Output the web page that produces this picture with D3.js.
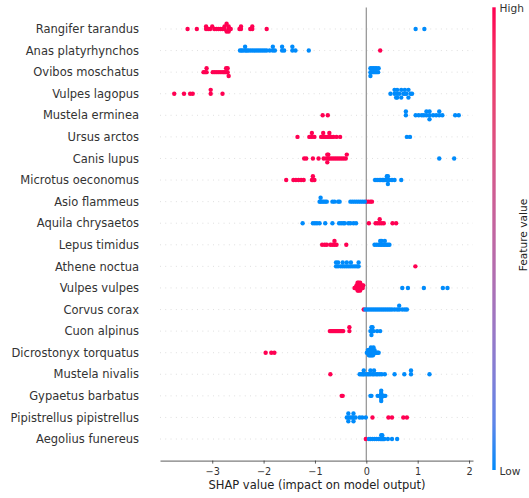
<!DOCTYPE html>
<html>
<head>
<meta charset="utf-8">
<script src="https://cdn.jsdelivr.net/npm/d3@7"></script>
<style>
	html, body { margin: 0; padding: 0; background: #fff; }
	text { font-family: "DejaVu Sans", sans-serif; }
</style>
</head>
<body>
<script>
(function() {
	'use strict';

	// DATA //

	var features = [
		'Rangifer tarandus',
		'Anas platyrhynchos',
		'Ovibos moschatus',
		'Vulpes lagopus',
		'Mustela erminea',
		'Ursus arctos',
		'Canis lupus',
		'Microtus oeconomus',
		'Asio flammeus',
		'Aquila chrysaetos',
		'Lepus timidus',
		'Athene noctua',
		'Vulpes vulpes',
		'Corvus corax',
		'Cuon alpinus',
		'Dicrostonyx torquatus',
		'Mustela nivalis',
		'Gypaetus barbatus',
		'Pipistrellus pipistrellus',
		'Aegolius funereus'
	];

	// SHAP values of samples with a high feature value (red):
	var highShap = [
		[ -3.48, -3.30, -3.12, -3.12, -3.08, -3.04, -3.00, -2.96, -2.92, -2.88, -2.84, -2.80, -2.76, -2.76, -2.72, -2.72, -2.68, -2.68, -2.68, -2.64, -2.47, -2.44, -2.44, -2.26, -2.22, -2.22, -1.94 ],
		[ 0.27 ],
		[ -3.17, -3.14, -3.11, -3.11, -2.99, -2.95, -2.91, -2.87, -2.83, -2.79, -2.76, -2.73, -2.73, -2.70, -2.70, -2.68 ],
		[ -3.74, -3.55, -3.43, -3.38, -3.03, -3.03, -2.80 ],
		[ -0.85, -0.75 ],
		[ -1.34, -1.11, -1.06, -1.06, -1.01, -0.88, -0.84, -0.84, -0.80, -0.76, -0.72, -0.72, -0.68, -0.64, -0.58, -0.51 ],
		[ -1.21, -1.17, -1.04, -0.93, -0.83, -0.78, -0.76, -0.76, -0.74, -0.74, -0.72, -0.68, -0.64, -0.60, -0.56, -0.52, -0.48, -0.44, -0.40, -0.38 ],
		[ -1.56, -1.42, -1.37, -1.32, -1.27, -1.22, -1.06, -1.04, -1.04, -1.01 ],
		[ 0.00, 0.04, 0.08, 0.11 ],
		[ 0.05, 0.18, 0.22, 0.26, 0.26, 0.30, 0.34, 0.51, 0.58 ],
		[ -0.86, -0.81, -0.77, -0.70, -0.66, -0.62, -0.62, -0.58, -0.39 ],
		[ 0.955 ],
		[ -0.23, -0.21, -0.20, -0.19, -0.18, -0.18, -0.17, -0.17, -0.16, -0.16, -0.15, -0.15, -0.14, -0.14, -0.13, -0.13, -0.12, -0.12, -0.11, -0.10, -0.09, -0.08, -0.07, -0.06 ],
		[ -0.05 ],
		[ -0.71, -0.69, -0.67, -0.65, -0.63, -0.61, -0.59, -0.57, -0.55, -0.53, -0.51, -0.49, -0.47, -0.45, -0.33, -0.33 ],
		[ -1.96, -1.85, -1.79 ],
		[ -0.70 ],
		[ -0.48, -0.46 ],
		[ 0.12, 0.43, 0.50, 0.72, 0.79 ],
		[ -0.01 ]
	];

	// SHAP values of samples with a low feature value (blue):
	var lowShap = [
		[ 0.96, 1.13 ],
		[ -2.46, -2.43, -2.40, -2.36, -2.36, -2.33, -2.30, -2.26, -2.22, -2.18, -2.14, -2.10, -2.06, -2.02, -1.98, -1.94, -1.88, -1.82, -1.82, -1.78, -1.64, -1.64, -1.60, -1.44, -1.44, -1.38, -1.12 ],
		[ 0.08, 0.08, 0.08, 0.11, 0.11, 0.14, 0.14, 0.17, 0.17, 0.20, 0.20, 0.23, 0.24 ],
		[ 0.47, 0.55, 0.55, 0.58, 0.60, 0.60, 0.60, 0.64, 0.68, 0.68, 0.72, 0.75, 0.75, 0.78, 0.82, 0.82, 0.86, 0.89 ],
		[ 0.77, 0.77, 0.96, 1.02, 1.08, 1.12, 1.17, 1.17, 1.23, 1.23, 1.23, 1.30, 1.36, 1.42, 1.42, 1.48, 1.73, 1.80 ],
		[ 0.79, 0.85 ],
		[ 1.42, 1.71 ],
		[ 0.17, 0.21, 0.25, 0.28, 0.31, 0.33, 0.35, 0.38, 0.40, 0.42, 0.42, 0.42, 0.45, 0.50, 0.55, 0.68 ],
		[ -0.91, -0.89, -0.89, -0.86, -0.83, -0.80, -0.77, -0.66, -0.62, -0.55, -0.52, -0.31, -0.27, -0.23, -0.19, -0.15, -0.11, -0.07, -0.03 ],
		[ -1.24, -1.04, -1.00, -0.96, -0.91, -0.80, -0.66, -0.53, -0.49, -0.45, -0.42, -0.35, -0.31, -0.25, -0.20 ],
		[ 0.16, 0.20, 0.24, 0.27, 0.27, 0.30, 0.30, 0.33, 0.36, 0.36, 0.39, 0.42, 0.45 ],
		[ -0.59, -0.59, -0.55, -0.55, -0.50, -0.46, -0.46, -0.42, -0.38, -0.38, -0.34, -0.30, -0.30, -0.26, -0.22, -0.18, -0.15, -0.15 ],
		[ 0.70, 0.81, 1.12, 1.49, 1.58 ],
		[ -0.02, 0.02, 0.06, 0.10, 0.14, 0.18, 0.22, 0.26, 0.30, 0.34, 0.38, 0.42, 0.46, 0.50, 0.55, 0.60, 0.64, 0.64, 0.70, 0.75, 0.79 ],
		[ 0.08, 0.10, 0.10, 0.10, 0.12, 0.12, 0.14, 0.21, 0.27 ],
		[ 0.01, 0.03, 0.04, 0.05, 0.05, 0.06, 0.07, 0.07, 0.08, 0.08, 0.09, 0.09, 0.10, 0.10, 0.11, 0.12, 0.12, 0.13, 0.14, 0.15, 0.16, 0.18, 0.20, 0.22, 0.24 ],
		[ -0.13, -0.10, -0.07, -0.05, -0.05, -0.02, 0.02, 0.05, 0.08, 0.08, 0.12, 0.15, 0.15, 0.19, 0.22, 0.26, 0.30, 0.36, 0.55, 0.74, 0.87, 0.87, 1.23 ],
		[ 0.08, 0.10, 0.22, 0.26, 0.28, 0.29, 0.29, 0.29, 0.29, 0.29, 0.31, 0.33, 0.35, 0.37 ],
		[ -0.38, -0.35, -0.35, -0.35, -0.31, -0.27, -0.25, -0.25, -0.25, -0.21, -0.13, -0.08, -0.01 ],
		[ 0.05, 0.08, 0.12, 0.16, 0.20, 0.24, 0.27, 0.29, 0.29, 0.31, 0.31, 0.33, 0.35, 0.42, 0.50, 0.60 ]
	];

	var xTicks = [ -3, -2, -1, 0, 1, 2 ];

	var xLabel = 'SHAP value (impact on model output)',
		colorLabel = 'Feature value',
		colorTicks = [ 'High', 'Low' ];


	// VARIABLES //

	var WIDTH = 529,
		HEIGHT = 498,
		LEFT = 160,
		RIGHT = 473,
		TOP = 7.4,
		BOTTOM = 460.6,
		RADIUS = 2.2,
		NBINS = 100,
		ROW_HEIGHT = 0.4,
		HIGH_COLOR = '#ff0052',
		LOW_COLOR = '#008bfb',
		AXIS_COLOR = '#333333';


	// FUNCTIONS //

	/**
	* FUNCTION: swarm( values )
	*	Returns vertical offsets (row units) stacking points of equal bins.
	*/
	function swarm( values ) {
		var lo = d3.min( values ),
			hi = d3.max( values ),
			quant,
			order,
			ys,
			layer = 0,
			lastBin = -1,
			top;

		quant = values.map( function( v ) {
			return Math.round( NBINS * ( v - lo ) / ( hi - lo + 1e-8 ) );
		});
		order = d3.range( values.length ).sort( function( a, b ) {
			return ( quant[ a ] - quant[ b ] ) || ( values[ a ] - values[ b ] ) || ( a - b );
		});
		ys = values.map( function() { return 0; } );
		order.forEach( function( i ) {
			if ( quant[ i ] !== lastBin ) {
				layer = 0;
			}
			ys[ i ] = Math.ceil( layer / 2 ) * ( ( layer % 2 ) * 2 - 1 );
			layer += 1;
			lastBin = quant[ i ];
		});
		top = d3.max( ys ) + 1;
		return ys.map( function( y ) {
			return y * 0.9 * ROW_HEIGHT / top;
		});
	}


	// SCALES //

	var allValues = d3.merge( highShap.concat( lowShap ) ),
		extent = d3.extent( allValues ),
		pad = 0.05 * ( extent[ 1 ] - extent[ 0 ] );

	var x = d3.scaleLinear()
		.domain( [ extent[ 0 ] - pad, extent[ 1 ] + pad ] )
		.range( [ LEFT, RIGHT ] );

	var y = d3.scaleLinear()
		.domain( [ -1, features.length ] )
		.range( [ BOTTOM, TOP ] );

	var color = d3.scaleLinear()
		.domain( [ 0, 1 ] )
		.range( [ LOW_COLOR, HIGH_COLOR ] )
		.interpolate( d3.interpolateLab );


	// CANVAS //

	var svg = d3.select( 'body' ).append( 'svg' )
		.attr( 'width', WIDTH )
		.attr( 'height', HEIGHT )
		.attr( 'viewBox', '0 0 ' + WIDTH + ' ' + HEIGHT );

	// Build the points of every row:
	var points = [];
	features.forEach( function( name, i ) {
		var pos = features.length - 1 - i,
			vals = highShap[ i ].concat( lowShap[ i ] ),
			flags = highShap[ i ].map( function() { return 1; } )
				.concat( lowShap[ i ].map( function() { return 0; } ) ),
			offs = swarm( vals );
		vals.forEach( function( v, j ) {
			points.push( { value: v, feature: flags[ j ], pos: pos, dy: offs[ j ] } );
		});
	});

	// Grid lines behind each row:
	svg.append( 'g' )
		.attr( 'class', 'grid' )
		.selectAll( 'line' )
		.data( features )
	  .enter().append( 'line' )
		.attr( 'x1', LEFT )
		.attr( 'x2', RIGHT )
		.attr( 'y1', function( d, i ) { return y( features.length - 1 - i ); } )
		.attr( 'y2', function( d, i ) { return y( features.length - 1 - i ); } )
		.attr( 'stroke', '#c4c4c4' )
		.attr( 'stroke-width', 0.6 )
		.attr( 'stroke-dasharray', '0.9,4.4' );

	// Zero line:
	svg.append( 'line' )
		.attr( 'x1', x( 0 ) )
		.attr( 'x2', x( 0 ) )
		.attr( 'y1', TOP )
		.attr( 'y2', BOTTOM )
		.attr( 'stroke', '#999999' )
		.attr( 'stroke-width', 1.3 );

	// Dots:
	svg.append( 'g' )
		.attr( 'class', 'dots' )
		.selectAll( 'circle' )
		.data( points )
	  .enter().append( 'circle' )
		.attr( 'cx', function( d ) { return x( d.value ); } )
		.attr( 'cy', function( d ) { return y( d.pos + d.dy ); } )
		.attr( 'r', RADIUS )
		.attr( 'fill', function( d ) { return color( d.feature ); } );

	// Feature labels:
	svg.append( 'g' )
		.attr( 'class', 'labels' )
		.selectAll( 'text' )
		.data( features )
	  .enter().append( 'text' )
		.attr( 'x', 139 )
		.attr( 'y', function( d, i ) { return y( features.length - 1 - i ); } )
		.attr( 'dy', '0.36em' )
		.attr( 'text-anchor', 'end' )
		.attr( 'font-size', '11.5px' )
		.attr( 'fill', AXIS_COLOR )
		.text( function( d ) { return d; } );

	// X axis:
	var xAxis = svg.append( 'g' )
		.attr( 'class', 'x axis' )
		.attr( 'transform', 'translate(0,' + BOTTOM + ')' )
		.call( d3.axisBottom( x )
			.tickValues( xTicks )
			.tickFormat( d3.format( 'd' ) )
			.tickSizeInner( 3 )
			.tickSizeOuter( 0 )
			.tickPadding( 4.5 ) );

	xAxis.select( '.domain' )
		.attr( 'stroke', AXIS_COLOR )
		.attr( 'stroke-width', 0.8 );
	xAxis.selectAll( '.tick line' )
		.attr( 'stroke', AXIS_COLOR )
		.attr( 'stroke-width', 0.8 );
	xAxis.selectAll( '.tick text' )
		.attr( 'fill', AXIS_COLOR )
		.attr( 'font-size', '9.7px' )
		.attr( 'font-family', '"DejaVu Sans", sans-serif' );

	svg.append( 'text' )
		.attr( 'x', ( LEFT + RIGHT ) / 2 + 0.5 )
		.attr( 'y', 488.5 )
		.attr( 'text-anchor', 'middle' )
		.attr( 'font-size', '11.5px' )
		.attr( 'fill', '#222' )
		.text( xLabel );

	// Color bar:
	var grad = svg.append( 'defs' ).append( 'linearGradient' )
		.attr( 'id', 'cbar' )
		.attr( 'x1', 0 ).attr( 'x2', 0 )
		.attr( 'y1', 1 ).attr( 'y2', 0 );

	grad.selectAll( 'stop' )
		.data( d3.range( 0, 1.0001, 0.1 ) )
	  .enter().append( 'stop' )
		.attr( 'offset', function( d ) { return d; } )
		.attr( 'stop-color', function( d ) { return color( d ); } );

	svg.append( 'rect' )
		.attr( 'x', 492.3 )
		.attr( 'y', 7.3 )
		.attr( 'width', 3.4 )
		.attr( 'height', 462.7 )
		.attr( 'fill', 'url(#cbar)' );

	svg.selectAll( 'text.cticks' )
		.data( colorTicks )
	  .enter().append( 'text' )
		.attr( 'class', 'cticks' )
		.attr( 'x', 499.5 )
		.attr( 'y', function( d, i ) { return i === 0 ? 11.8 : 475; } )
		.attr( 'font-size', '10.6px' )
		.attr( 'fill', AXIS_COLOR )
		.text( function( d ) { return d; } );

	svg.append( 'text' )
		.attr( 'transform', 'translate(526.5,235) rotate(-90)' )
		.attr( 'text-anchor', 'middle' )
		.attr( 'font-size', '10.6px' )
		.attr( 'fill', '#222' )
		.text( colorLabel );

})();
</script>
</body>
</html>
